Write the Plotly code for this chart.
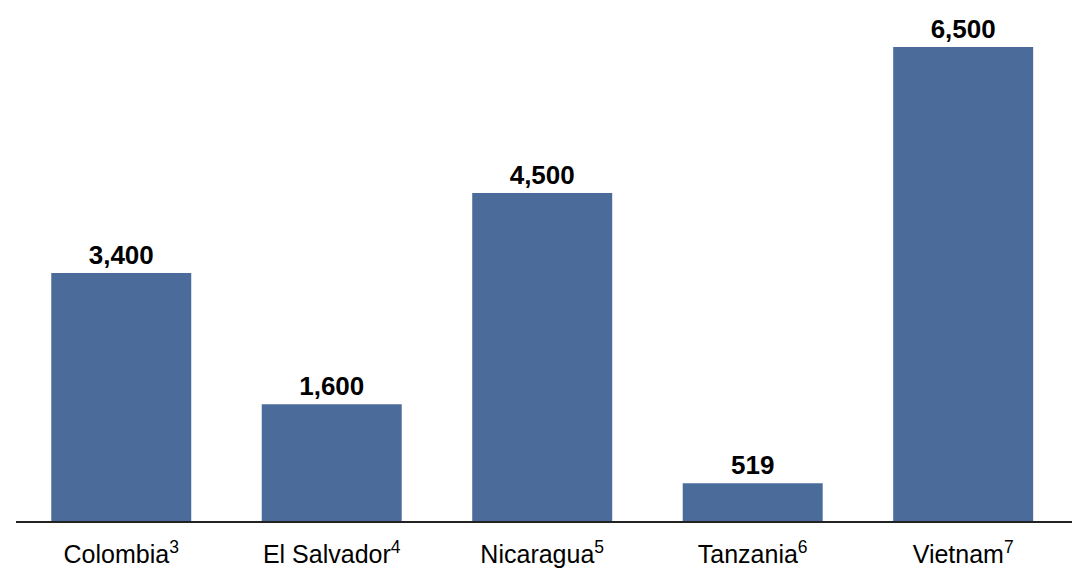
import plotly.graph_objects as go

countries = ["Colombia", "El Salvador", "Nicaragua", "Tanzania", "Vietnam"]
footnotes = ["3", "4", "5", "6", "7"]
values = [3400, 1600, 4500, 519, 6500]

tick_labels = [f"{c}<sup>{n}</sup>" for c, n in zip(countries, footnotes)]

fig = go.Figure(
    go.Bar(
        x=tick_labels,
        y=values,
        width=0.665,
        marker=dict(color="#4b6b9b", line=dict(width=0)),
        texttemplate="<b>%{y:,}</b>",
        textposition="outside",
        textfont=dict(family="Liberation Sans, Arial, sans-serif", size=26, color="#000000"),
        cliponaxis=False,
    )
)

fig.update_layout(
    width=1072,
    height=577,
    margin=dict(l=16, r=0, t=0, b=56),
    plot_bgcolor="white",
    paper_bgcolor="white",
    showlegend=False,
    font=dict(family="Liberation Sans, Arial, sans-serif", color="#000000"),
    xaxis=dict(
        range=[-0.5, 4.517],
        showline=True,
        linecolor="#222222",
        linewidth=2,
        showgrid=False,
        ticks="",
        tickfont=dict(size=25, color="#000000"),
        ticklabelstandoff=10,
    ),
    yaxis=dict(
        range=[0, 7146],
        visible=False,
        showgrid=False,
        zeroline=False,
    ),
)

fig.write_html("out.html")
